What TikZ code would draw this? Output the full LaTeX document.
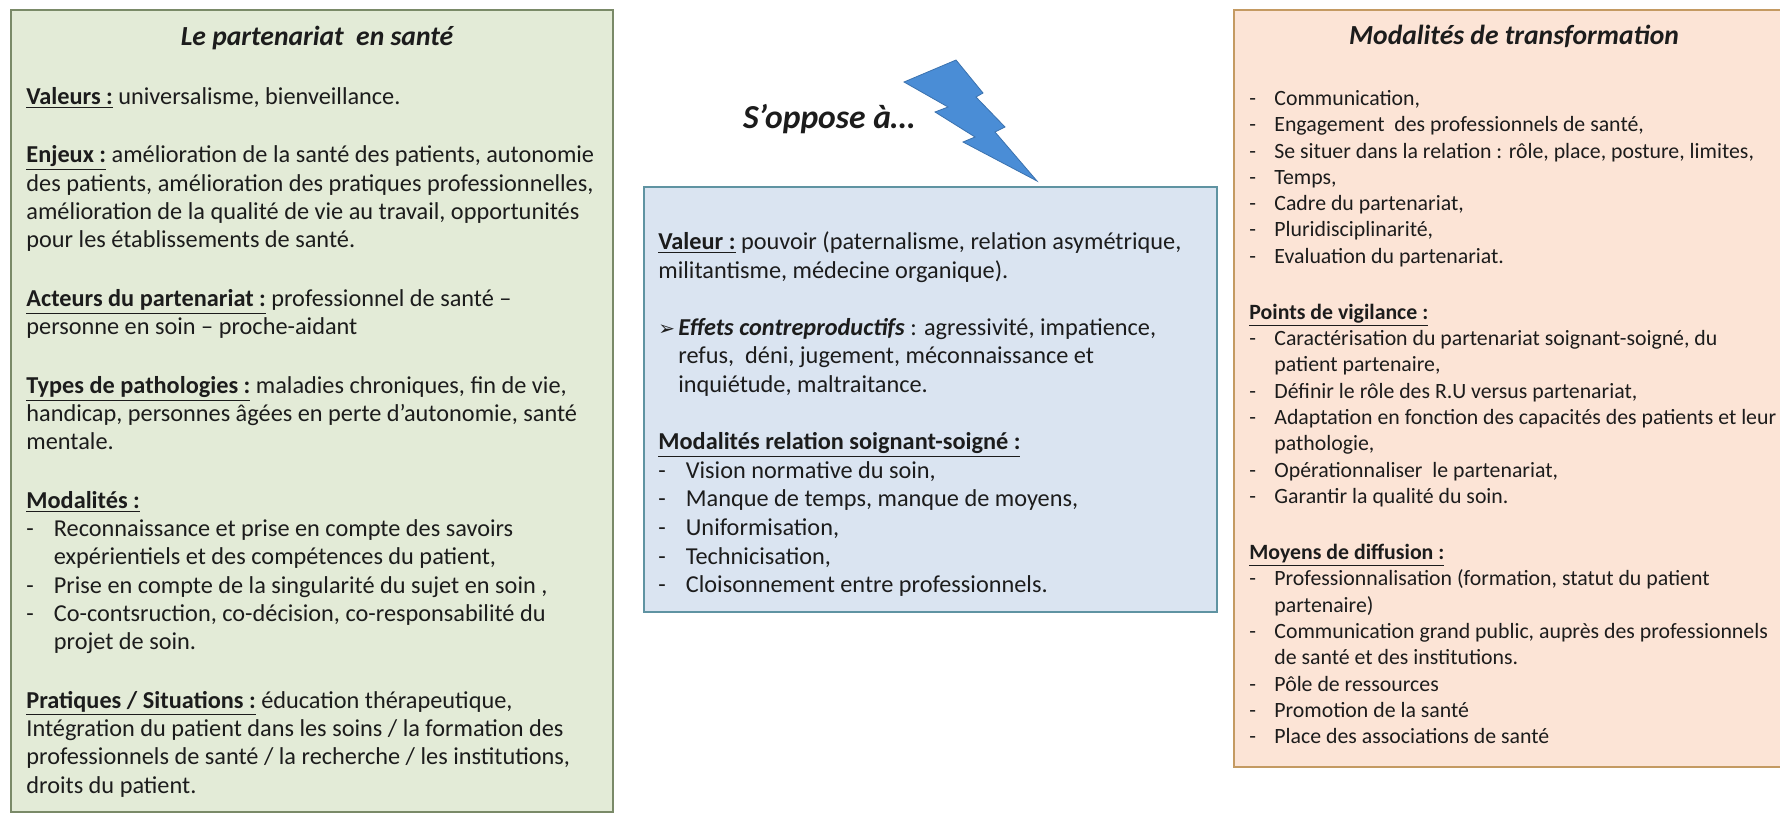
\documentclass[tikz,border=0pt]{standalone}
\usepackage{fontspec}
\setmainfont{Carlito}
\newfontfamily\dingfont{DejaVu Sans}
\usetikzlibrary{positioning}

\definecolor{greenfill}{HTML}{E3EBD7}
\definecolor{greenline}{HTML}{7A8A68}
\definecolor{bluefill}{HTML}{DAE4F1}
\definecolor{blueline}{HTML}{5F93A2}
\definecolor{peachfill}{HTML}{FCE4D6}
\definecolor{peachline}{HTML}{C49A62}
\definecolor{boltblue}{HTML}{4A8DD6}
\definecolor{boltline}{HTML}{3B72AE}
\definecolor{ink}{HTML}{1C1C1C}

\newcommand{\head}[1]{\underline{\textbf{#1}}}
\newcommand{\itm}{\makebox[13.75pt][l]{-}}
\newcommand{\cont}{\hspace*{13.75pt}}
\newcommand{\ritm}{\makebox[12.5pt][l]{-}}
\newcommand{\rcont}{\hspace*{12.5pt}}
\newcommand{\topstrut}{\rule{0pt}{11pt}}
\newcommand{\bodyfont}{\fontsize{12.15pt}{14.15pt}\selectfont}
\newcommand{\midfont}{\fontsize{12.15pt}{14.3pt}\selectfont}
\newcommand{\rbodyfont}{\fontsize{10.9pt}{13.15pt}\selectfont}
\newcommand{\headfont}{\fontsize{13.8pt}{16pt}\selectfont\bfseries\itshape}

\begin{document}
\begin{tikzpicture}[x=0.5pt, y=-0.5pt, text=ink,
  panel/.style={draw=#1line, fill=#1fill, line width=0.8pt},
  boxtext/.style={anchor=north west, inner sep=0pt, align=left, font=\bodyfont},
  boxtitle/.style={inner sep=0pt, font=\headfont}]
\useasboundingbox (0,0) rectangle (1780,815);

% panels
\draw[panel=green] (11,10) rectangle (613,812);
\draw[panel=blue] (644,187) rectangle (1217,612);
\draw[panel=peach] (1234,10) rectangle (1810,767);

% lightning bolt
\draw[fill=boltblue, draw=boltline, line width=0.4pt, line join=miter]
  (904,82) -- (956,60) -- (983,93) -- (976,97) -- (1005,127) -- (995,132)
  -- (1037,181) -- (963,142) -- (975,137) -- (935,112) -- (948,107) -- cycle;

% titles
\node[boxtitle] (lefttitle) at (317,38) {Le partenariat~ en santé};
\node[boxtitle, font=\fontsize{16.8pt}{19pt}\selectfont\bfseries\itshape] (opp) at (829,119) {S’oppose à…};
\node[boxtitle] (righttitle) at (1514,36) {Modalités de transformation};

% left panel
\node[boxtext] (lefttext) at (26,82) {%
\topstrut\head{Valeurs :} universalisme, bienveillance.\\[15.1pt]
\head{Enjeux :} amélioration de la santé des patients, autonomie\\
des patients, amélioration des pratiques professionnelles,\\
amélioration de la qualité de vie au travail, opportunités\\
pour les établissements de santé.\\[15.1pt]
\head{Acteurs du partenariat :} professionnel de santé –\\
personne en soin – proche-aidant\\[15.1pt]
\head{Types de pathologies :} maladies chroniques, fin de vie,\\
handicap, personnes âgées en perte d’autonomie, santé\\
mentale.\\[15.1pt]
\head{Modalités :}\\
\itm Reconnaissance et prise en compte des savoirs\\
\cont expérientiels et des compétences du patient,\\
\itm Prise en compte de la singularité du sujet en soin ,\\
\itm Co-contsruction, co-décision, co-responsabilité du\\
\cont projet de soin.\\[15.1pt]
\head{Pratiques / Situations :} éducation thérapeutique,\\
Intégration du patient dans les soins / la formation des\\
professionnels de santé / la recherche / les institutions,\\
droits du patient.};

% middle panel
\node[boxtext, font=\midfont] (midtext) at (658,227) {%
\topstrut\head{Valeur :} pouvoir (paternalisme, relation asymétrique,\\
militantisme, médecine organique).\\[14.3pt]
\makebox[10pt][l]{\dingfont\fontsize{10pt}{10pt}\selectfont ➢}\textbf{\textit{Effets contreproductifs}} : agressivité, impatience,\\
\hspace*{10pt}refus,~ déni, jugement, méconnaissance et\\
\hspace*{10pt}inquiétude, maltraitance.\\[14.3pt]
\head{Modalités relation soignant-soigné :}\\
\itm Vision normative du soin,\\
\itm Manque de temps, manque de moyens,\\
\itm Uniformisation,\\
\itm Technicisation,\\
\itm Cloisonnement entre professionnels.};

% right panel
\node[boxtext, font=\rbodyfont] (righttext) at (1249,83) {%
\topstrut\ritm Communication,\\
\ritm Engagement~ des professionnels de santé,\\
\ritm Se situer dans la relation : rôle, place, posture, limites,\\
\ritm Temps,\\
\ritm Cadre du partenariat,\\
\ritm Pluridisciplinarité,\\
\ritm Evaluation du partenariat.\\[14.9pt]
\head{Points de vigilance :}\\
\ritm Caractérisation du partenariat soignant-soigné, du\\
\rcont patient partenaire,\\
\ritm Définir le rôle des R.U versus partenariat,\\
\ritm Adaptation en fonction des capacités des patients et leur\\
\rcont pathologie,\\
\ritm Opérationnaliser~ le partenariat,\\
\ritm Garantir la qualité du soin.\\[14.9pt]
\head{Moyens de diffusion :}\\
\ritm Professionnalisation (formation, statut du patient\\
\rcont partenaire)\\
\ritm Communication grand public, auprès des professionnels\\
\rcont de santé et des institutions.\\
\ritm Pôle de ressources\\
\ritm Promotion de la santé\\
\ritm Place des associations de santé};
\end{tikzpicture}
\end{document}
